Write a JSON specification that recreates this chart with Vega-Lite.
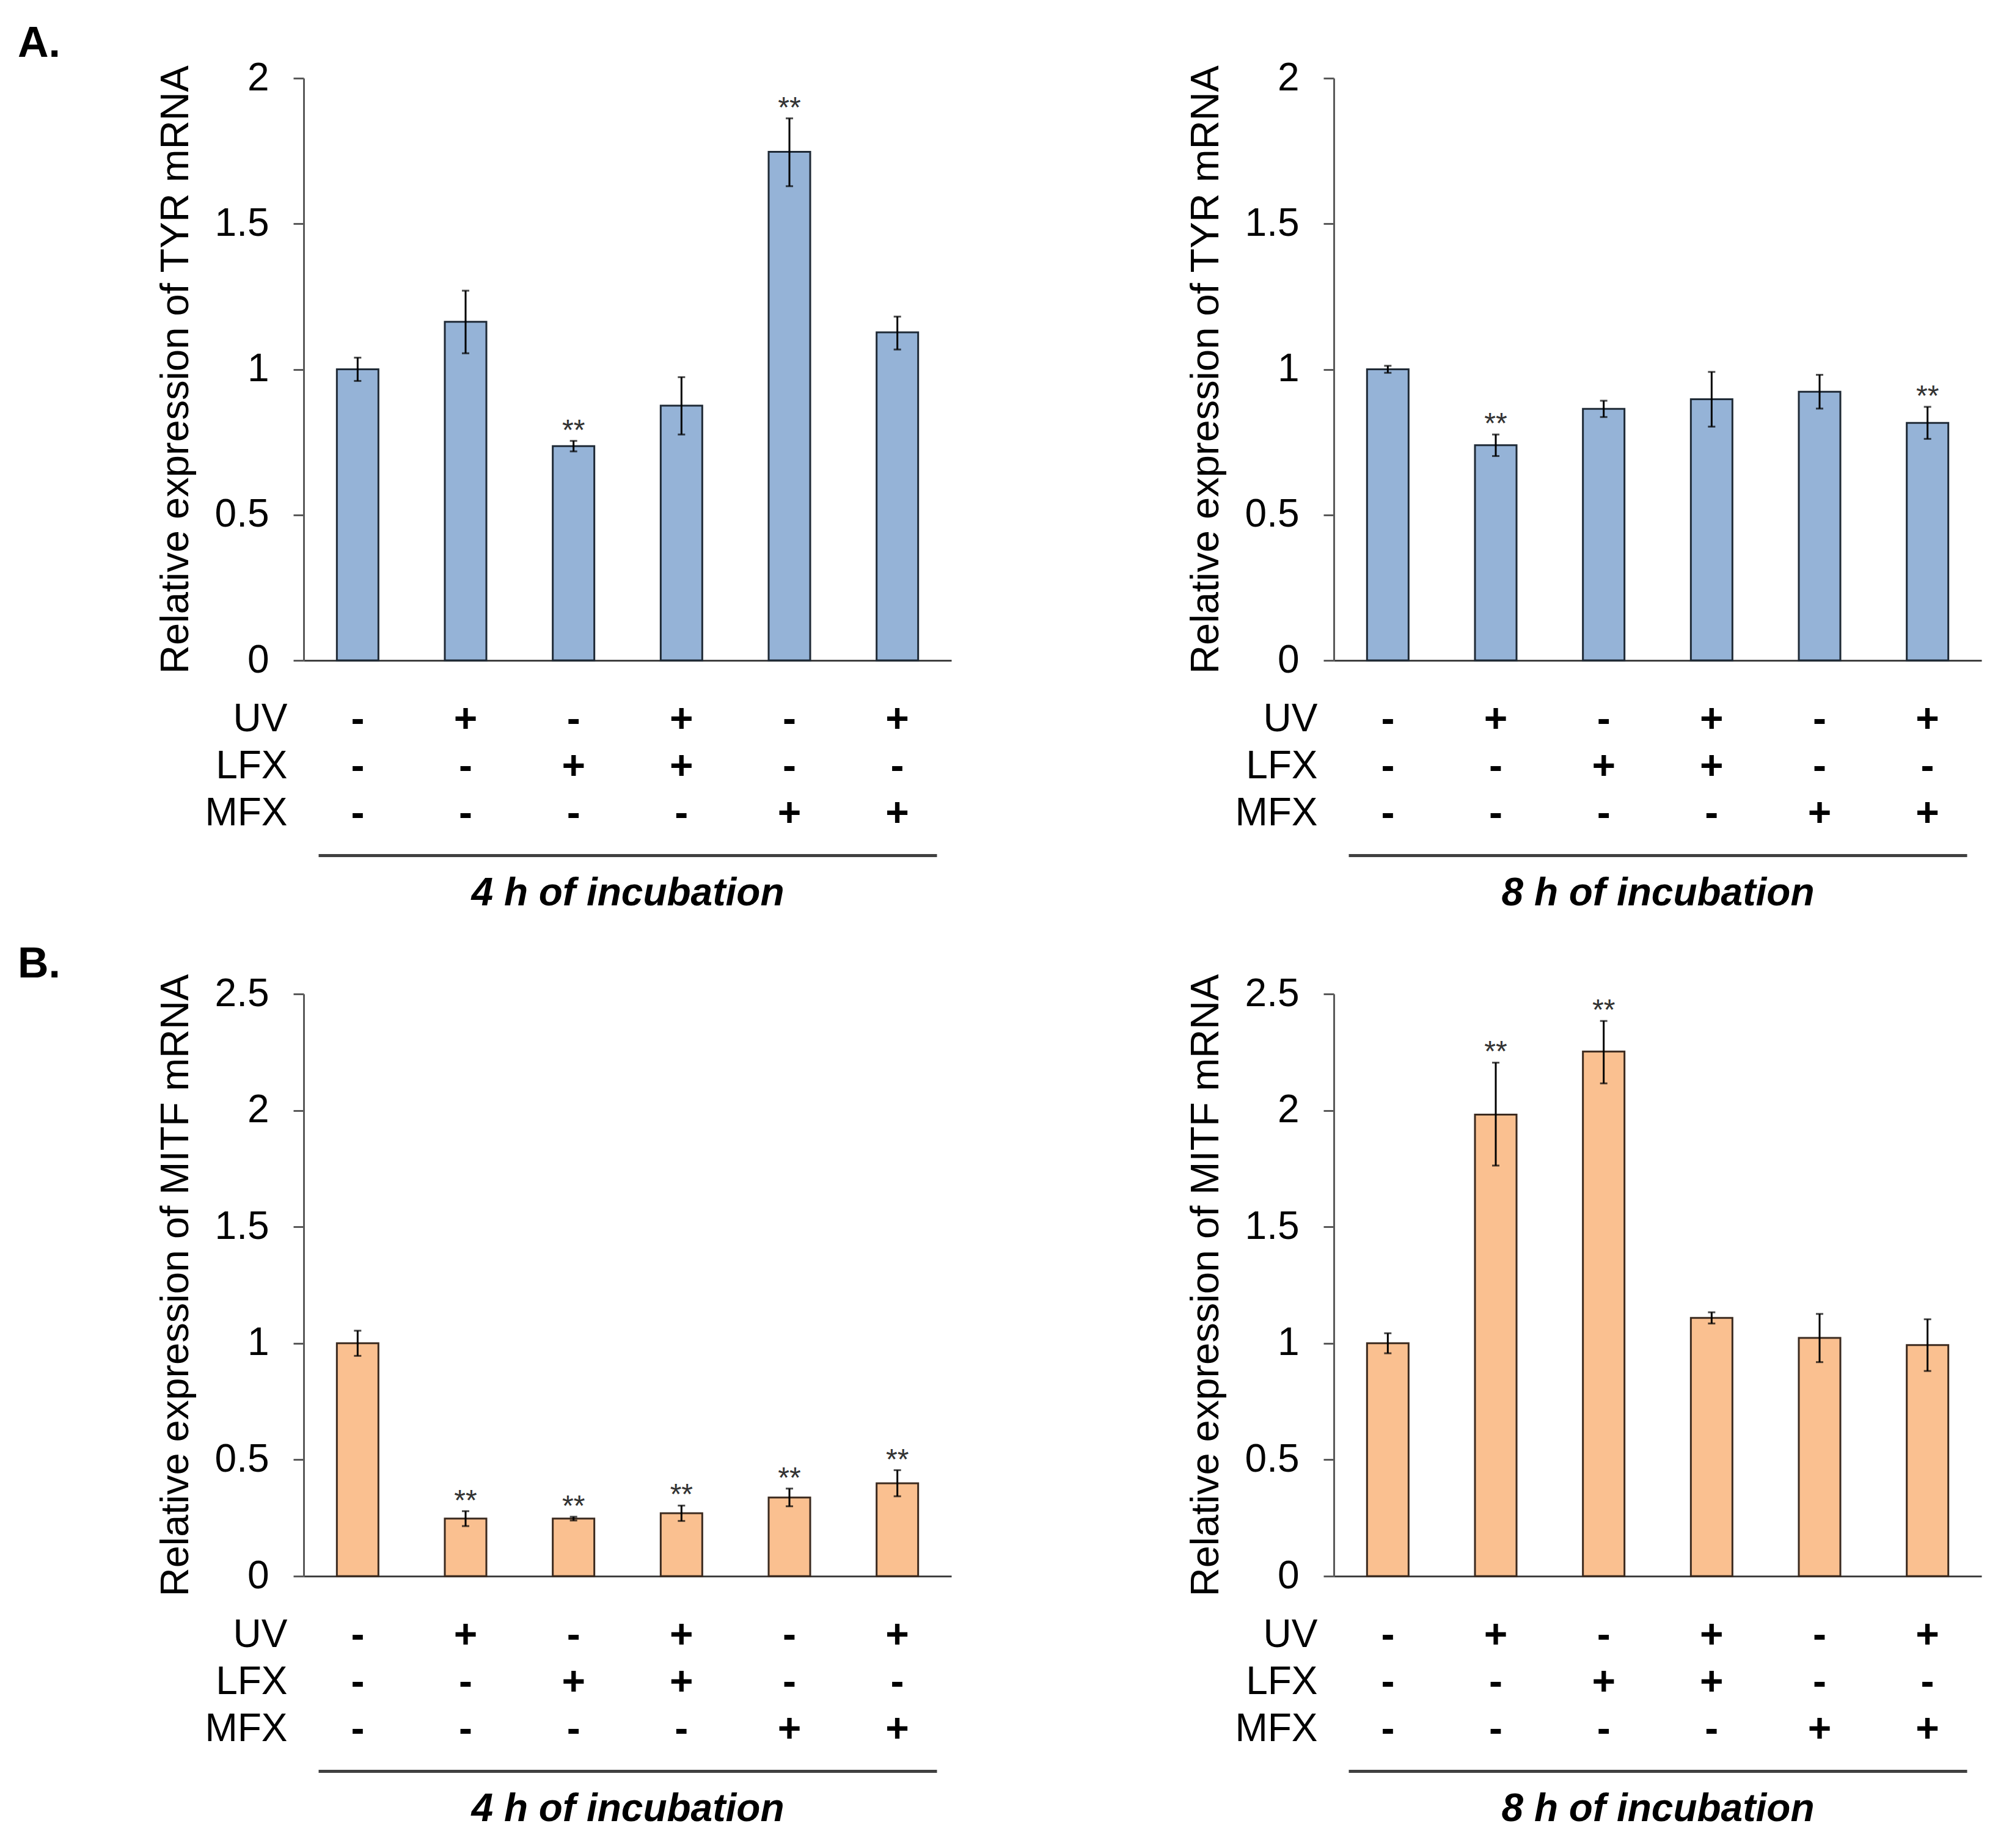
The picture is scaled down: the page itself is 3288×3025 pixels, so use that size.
{
  "$schema": "https://vega.github.io/schema/vega-lite/v6.json",
  "background": "white",
  "padding": {"left": 29, "top": 37, "right": 5, "bottom": 5},
  "spacing": 50,
  "config": {
    "font": "Liberation Sans",
    "view": {"stroke": null},
    "axis": {"grid": false, "labelColor": "black", "titleColor": "black", "labelFont": "Liberation Sans", "titleFont": "Liberation Sans"},
    "title": {"font": "Liberation Sans", "color": "black"}
  },
  "datasets": {
    "design": [
      {"cond": "c1", "UV": "-", "LFX": "-", "MFX": "-"},
      {"cond": "c2", "UV": "+", "LFX": "-", "MFX": "-"},
      {"cond": "c3", "UV": "-", "LFX": "+", "MFX": "-"},
      {"cond": "c4", "UV": "+", "LFX": "+", "MFX": "-"},
      {"cond": "c5", "UV": "-", "LFX": "-", "MFX": "+"},
      {"cond": "c6", "UV": "+", "LFX": "-", "MFX": "+"}
    ],
    "tyr4": [
      {"cond": "c1", "mean": 1.0, "lo": 0.96, "hi": 1.04, "sig": ""},
      {"cond": "c2", "mean": 1.163, "lo": 1.055, "hi": 1.27, "sig": ""},
      {"cond": "c3", "mean": 0.736, "lo": 0.718, "hi": 0.754, "sig": "**"},
      {"cond": "c4", "mean": 0.875, "lo": 0.776, "hi": 0.973, "sig": ""},
      {"cond": "c5", "mean": 1.747, "lo": 1.629, "hi": 1.862, "sig": "**"},
      {"cond": "c6", "mean": 1.127, "lo": 1.068, "hi": 1.181, "sig": ""}
    ],
    "tyr8": [
      {"cond": "c1", "mean": 1.0, "lo": 0.988, "hi": 1.012, "sig": ""},
      {"cond": "c2", "mean": 0.739, "lo": 0.702, "hi": 0.776, "sig": "**"},
      {"cond": "c3", "mean": 0.864, "lo": 0.836, "hi": 0.892, "sig": ""},
      {"cond": "c4", "mean": 0.897, "lo": 0.803, "hi": 0.991, "sig": ""},
      {"cond": "c5", "mean": 0.923, "lo": 0.865, "hi": 0.981, "sig": ""},
      {"cond": "c6", "mean": 0.816, "lo": 0.761, "hi": 0.871, "sig": "**"}
    ],
    "mitf4": [
      {"cond": "c1", "mean": 1.0, "lo": 0.946, "hi": 1.054, "sig": ""},
      {"cond": "c2", "mean": 0.247, "lo": 0.215, "hi": 0.279, "sig": "**"},
      {"cond": "c3", "mean": 0.247, "lo": 0.239, "hi": 0.255, "sig": "**"},
      {"cond": "c4", "mean": 0.27, "lo": 0.237, "hi": 0.303, "sig": "**"},
      {"cond": "c5", "mean": 0.338, "lo": 0.3, "hi": 0.376, "sig": "**"},
      {"cond": "c6", "mean": 0.399, "lo": 0.343, "hi": 0.455, "sig": "**"}
    ],
    "mitf8": [
      {"cond": "c1", "mean": 1.0, "lo": 0.957, "hi": 1.043, "sig": ""},
      {"cond": "c2", "mean": 1.982, "lo": 1.763, "hi": 2.205, "sig": "**"},
      {"cond": "c3", "mean": 2.253, "lo": 2.116, "hi": 2.384, "sig": "**"},
      {"cond": "c4", "mean": 1.109, "lo": 1.085, "hi": 1.133, "sig": ""},
      {"cond": "c5", "mean": 1.023, "lo": 0.919, "hi": 1.126, "sig": ""},
      {"cond": "c6", "mean": 0.992, "lo": 0.881, "hi": 1.103, "sig": ""}
    ]
  },
  "vconcat": [
    {
      "hconcat": [
        {
          "vconcat": [
            {
              "width": 1060, "height": 953,
              "data": {"name": "tyr4"},
              "title": {"text": "A.", "anchor": "start", "frame": "group", "dx": -468, "fontSize": 70, "fontWeight": "bold", "baseline": "alphabetic", "offset": -67},
              "encoding": {"x": {"field": "cond", "type": "nominal", "sort": null, "scale": {"paddingInner": 0.615, "paddingOuter": 0.3075}, "axis": {"labels": false, "ticks": false, "title": null, "domainColor": "#404040", "domainWidth": 3}}},
              "layer": [
                {"mark": {"type": "bar", "fill": "#95b3d7", "stroke": "#1f2a36", "strokeWidth": 3},
                 "encoding": {"y": {"field": "mean", "type": "quantitative", "scale": {"domain": [0, 2], "nice": false}, "axis": {"title": "Relative expression of TYR mRNA", "values": [0, 0.5, 1, 1.5, 2], "format": "~g", "domainColor": "#595959", "domainWidth": 3, "tickColor": "#595959", "tickWidth": 3, "tickSize": 17, "labelFontSize": 64, "labelPadding": 40, "labelFlush": false, "titleFontSize": 65, "titleFontWeight": "normal", "titlePadding": 30}}}},
                {"mark": {"type": "rule", "strokeWidth": 3, "color": "black"},
                 "encoding": {"y": {"field": "lo", "type": "quantitative", "scale": {"domain": [0, 2], "nice": false}}, "y2": {"field": "hi"}}},
                {"mark": {"type": "tick", "size": 12, "thickness": 3, "color": "black"},
                 "encoding": {"y": {"field": "lo", "type": "quantitative", "scale": {"domain": [0, 2], "nice": false}}}},
                {"mark": {"type": "tick", "size": 12, "thickness": 3, "color": "black"},
                 "encoding": {"y": {"field": "hi", "type": "quantitative", "scale": {"domain": [0, 2], "nice": false}}}},
                {"transform": [{"filter": "datum.sig == '**'"}],
                 "mark": {"type": "text", "fontSize": 48, "color": "#333333", "baseline": "alphabetic", "dy": -2},
                 "encoding": {"y": {"field": "hi", "type": "quantitative", "scale": {"domain": [0, 2], "nice": false}}, "text": {"field": "sig"}}}
              ]
            },
            {
              "width": 1012, "height": 231,
              "data": {"name": "design"},
              "transform": [{"fold": ["UV", "LFX", "MFX"], "as": ["factor", "sign"]}],
              "mark": {"type": "text", "fontSize": 66, "fontWeight": "bold", "color": "black"},
              "encoding": {
                "x": {"field": "cond", "type": "nominal", "sort": null, "scale": {"type": "point", "padding": 0.365}, "axis": {"labels": false, "ticks": false, "domainColor": "#404040", "domainWidth": 5, "offset": 30, "title": "4 h of incubation", "titleFontSize": 64, "titleFontStyle": "italic", "titleFontWeight": "bold", "titlePadding": 30}},
                "y": {"field": "factor", "type": "nominal", "sort": ["UV", "LFX", "MFX"], "scale": {"paddingInner": 0, "paddingOuter": 0}, "axis": {"title": null, "ticks": false, "domain": false, "labelFontSize": 64, "labelPadding": 51}},
                "text": {"field": "sign"}
              }
            }
          ],
          "spacing": 58, "bounds": "flush", "center": true
        },
        {
          "vconcat": [
            {
              "width": 1060, "height": 953,
              "data": {"name": "tyr8"},
              "encoding": {"x": {"field": "cond", "type": "nominal", "sort": null, "scale": {"paddingInner": 0.615, "paddingOuter": 0.3075}, "axis": {"labels": false, "ticks": false, "title": null, "domainColor": "#404040", "domainWidth": 3}}},
              "layer": [
                {"mark": {"type": "bar", "fill": "#95b3d7", "stroke": "#1f2a36", "strokeWidth": 3},
                 "encoding": {"y": {"field": "mean", "type": "quantitative", "scale": {"domain": [0, 2], "nice": false}, "axis": {"title": "Relative expression of TYR mRNA", "values": [0, 0.5, 1, 1.5, 2], "format": "~g", "domainColor": "#595959", "domainWidth": 3, "tickColor": "#595959", "tickWidth": 3, "tickSize": 17, "labelFontSize": 64, "labelPadding": 40, "labelFlush": false, "titleFontSize": 65, "titleFontWeight": "normal", "titlePadding": 30}}}},
                {"mark": {"type": "rule", "strokeWidth": 3, "color": "black"},
                 "encoding": {"y": {"field": "lo", "type": "quantitative", "scale": {"domain": [0, 2], "nice": false}}, "y2": {"field": "hi"}}},
                {"mark": {"type": "tick", "size": 12, "thickness": 3, "color": "black"},
                 "encoding": {"y": {"field": "lo", "type": "quantitative", "scale": {"domain": [0, 2], "nice": false}}}},
                {"mark": {"type": "tick", "size": 12, "thickness": 3, "color": "black"},
                 "encoding": {"y": {"field": "hi", "type": "quantitative", "scale": {"domain": [0, 2], "nice": false}}}},
                {"transform": [{"filter": "datum.sig == '**'"}],
                 "mark": {"type": "text", "fontSize": 48, "color": "#333333", "baseline": "alphabetic", "dy": -2},
                 "encoding": {"y": {"field": "hi", "type": "quantitative", "scale": {"domain": [0, 2], "nice": false}}, "text": {"field": "sig"}}}
              ]
            },
            {
              "width": 1012, "height": 231,
              "data": {"name": "design"},
              "transform": [{"fold": ["UV", "LFX", "MFX"], "as": ["factor", "sign"]}],
              "mark": {"type": "text", "fontSize": 66, "fontWeight": "bold", "color": "black"},
              "encoding": {
                "x": {"field": "cond", "type": "nominal", "sort": null, "scale": {"type": "point", "padding": 0.365}, "axis": {"labels": false, "ticks": false, "domainColor": "#404040", "domainWidth": 5, "offset": 30, "title": "8 h of incubation", "titleFontSize": 64, "titleFontStyle": "italic", "titleFontWeight": "bold", "titlePadding": 30}},
                "y": {"field": "factor", "type": "nominal", "sort": ["UV", "LFX", "MFX"], "scale": {"paddingInner": 0, "paddingOuter": 0}, "axis": {"title": null, "ticks": false, "domain": false, "labelFontSize": 64, "labelPadding": 51}},
                "text": {"field": "sign"}
              }
            }
          ],
          "spacing": 58, "bounds": "flush", "center": true
        }
      ],
      "spacing": 384
    },
    {
      "hconcat": [
        {
          "vconcat": [
            {
              "width": 1060, "height": 953,
              "data": {"name": "mitf4"},
              "title": {"text": "B.", "anchor": "start", "frame": "group", "dx": -468, "fontSize": 70, "fontWeight": "bold", "baseline": "alphabetic", "offset": -76},
              "encoding": {"x": {"field": "cond", "type": "nominal", "sort": null, "scale": {"paddingInner": 0.615, "paddingOuter": 0.3075}, "axis": {"labels": false, "ticks": false, "title": null, "domainColor": "#404040", "domainWidth": 3}}},
              "layer": [
                {"mark": {"type": "bar", "fill": "#fac090", "stroke": "#3b2a1f", "strokeWidth": 3},
                 "encoding": {"y": {"field": "mean", "type": "quantitative", "scale": {"domain": [0, 2.5], "nice": false}, "axis": {"title": "Relative expression of MITF mRNA", "values": [0, 0.5, 1, 1.5, 2, 2.5], "format": "~g", "domainColor": "#595959", "domainWidth": 3, "tickColor": "#595959", "tickWidth": 3, "tickSize": 17, "labelFontSize": 64, "labelPadding": 40, "labelFlush": false, "titleFontSize": 65, "titleFontWeight": "normal", "titlePadding": 30}}}},
                {"mark": {"type": "rule", "strokeWidth": 3, "color": "black"},
                 "encoding": {"y": {"field": "lo", "type": "quantitative", "scale": {"domain": [0, 2.5], "nice": false}}, "y2": {"field": "hi"}}},
                {"mark": {"type": "tick", "size": 12, "thickness": 3, "color": "black"},
                 "encoding": {"y": {"field": "lo", "type": "quantitative", "scale": {"domain": [0, 2.5], "nice": false}}}},
                {"mark": {"type": "tick", "size": 12, "thickness": 3, "color": "black"},
                 "encoding": {"y": {"field": "hi", "type": "quantitative", "scale": {"domain": [0, 2.5], "nice": false}}}},
                {"transform": [{"filter": "datum.sig == '**'"}],
                 "mark": {"type": "text", "fontSize": 48, "color": "#333333", "baseline": "alphabetic", "dy": -2},
                 "encoding": {"y": {"field": "hi", "type": "quantitative", "scale": {"domain": [0, 2.5], "nice": false}}, "text": {"field": "sig"}}}
              ]
            },
            {
              "width": 1012, "height": 231,
              "data": {"name": "design"},
              "transform": [{"fold": ["UV", "LFX", "MFX"], "as": ["factor", "sign"]}],
              "mark": {"type": "text", "fontSize": 66, "fontWeight": "bold", "color": "black"},
              "encoding": {
                "x": {"field": "cond", "type": "nominal", "sort": null, "scale": {"type": "point", "padding": 0.365}, "axis": {"labels": false, "ticks": false, "domainColor": "#404040", "domainWidth": 5, "offset": 30, "title": "4 h of incubation", "titleFontSize": 64, "titleFontStyle": "italic", "titleFontWeight": "bold", "titlePadding": 30}},
                "y": {"field": "factor", "type": "nominal", "sort": ["UV", "LFX", "MFX"], "scale": {"paddingInner": 0, "paddingOuter": 0}, "axis": {"title": null, "ticks": false, "domain": false, "labelFontSize": 64, "labelPadding": 51}},
                "text": {"field": "sign"}
              }
            }
          ],
          "spacing": 58, "bounds": "flush", "center": true
        },
        {
          "vconcat": [
            {
              "width": 1060, "height": 953,
              "data": {"name": "mitf8"},
              "encoding": {"x": {"field": "cond", "type": "nominal", "sort": null, "scale": {"paddingInner": 0.615, "paddingOuter": 0.3075}, "axis": {"labels": false, "ticks": false, "title": null, "domainColor": "#404040", "domainWidth": 3}}},
              "layer": [
                {"mark": {"type": "bar", "fill": "#fac090", "stroke": "#3b2a1f", "strokeWidth": 3},
                 "encoding": {"y": {"field": "mean", "type": "quantitative", "scale": {"domain": [0, 2.5], "nice": false}, "axis": {"title": "Relative expression of MITF mRNA", "values": [0, 0.5, 1, 1.5, 2, 2.5], "format": "~g", "domainColor": "#595959", "domainWidth": 3, "tickColor": "#595959", "tickWidth": 3, "tickSize": 17, "labelFontSize": 64, "labelPadding": 40, "labelFlush": false, "titleFontSize": 65, "titleFontWeight": "normal", "titlePadding": 30}}}},
                {"mark": {"type": "rule", "strokeWidth": 3, "color": "black"},
                 "encoding": {"y": {"field": "lo", "type": "quantitative", "scale": {"domain": [0, 2.5], "nice": false}}, "y2": {"field": "hi"}}},
                {"mark": {"type": "tick", "size": 12, "thickness": 3, "color": "black"},
                 "encoding": {"y": {"field": "lo", "type": "quantitative", "scale": {"domain": [0, 2.5], "nice": false}}}},
                {"mark": {"type": "tick", "size": 12, "thickness": 3, "color": "black"},
                 "encoding": {"y": {"field": "hi", "type": "quantitative", "scale": {"domain": [0, 2.5], "nice": false}}}},
                {"transform": [{"filter": "datum.sig == '**'"}],
                 "mark": {"type": "text", "fontSize": 48, "color": "#333333", "baseline": "alphabetic", "dy": -2},
                 "encoding": {"y": {"field": "hi", "type": "quantitative", "scale": {"domain": [0, 2.5], "nice": false}}, "text": {"field": "sig"}}}
              ]
            },
            {
              "width": 1012, "height": 231,
              "data": {"name": "design"},
              "transform": [{"fold": ["UV", "LFX", "MFX"], "as": ["factor", "sign"]}],
              "mark": {"type": "text", "fontSize": 66, "fontWeight": "bold", "color": "black"},
              "encoding": {
                "x": {"field": "cond", "type": "nominal", "sort": null, "scale": {"type": "point", "padding": 0.365}, "axis": {"labels": false, "ticks": false, "domainColor": "#404040", "domainWidth": 5, "offset": 30, "title": "8 h of incubation", "titleFontSize": 64, "titleFontStyle": "italic", "titleFontWeight": "bold", "titlePadding": 30}},
                "y": {"field": "factor", "type": "nominal", "sort": ["UV", "LFX", "MFX"], "scale": {"paddingInner": 0, "paddingOuter": 0}, "axis": {"title": null, "ticks": false, "domain": false, "labelFontSize": 64, "labelPadding": 51}},
                "text": {"field": "sign"}
              }
            }
          ],
          "spacing": 58, "bounds": "flush", "center": true
        }
      ],
      "spacing": 384
    }
  ]
}
